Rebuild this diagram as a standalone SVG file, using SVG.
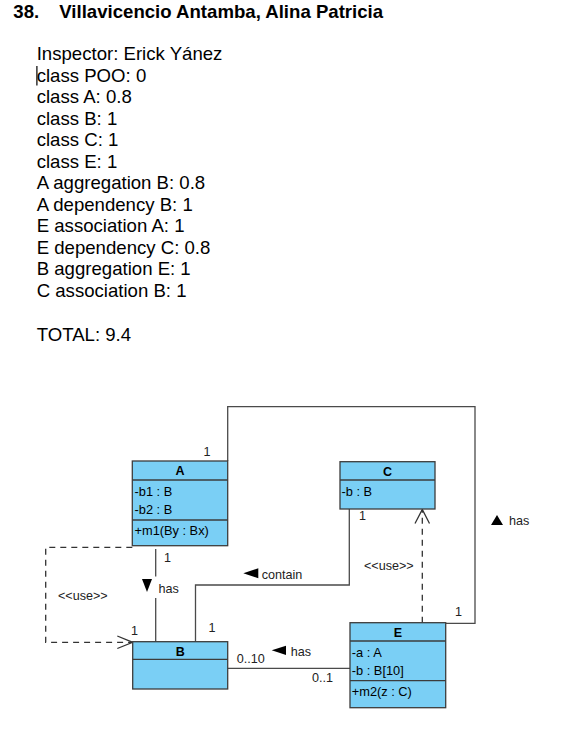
<svg xmlns="http://www.w3.org/2000/svg" width="573" height="733" viewBox="0 0 573 733">
<style>
.doc{font-family:"Liberation Sans",Arial,sans-serif;font-size:18.6px;fill:#000}
.ttl{font-family:"Liberation Sans",Arial,sans-serif;font-size:18.6px;font-weight:bold;fill:#000}
.box{fill:#7ACFF5;stroke:#3C3C3C;stroke-width:1.3}
.div{stroke:#3C3C3C;stroke-width:1.3}
.nm{font-family:"Liberation Sans",Arial,sans-serif;font-size:12.5px;font-weight:bold;fill:#000;text-anchor:middle}
.at{font-family:"Liberation Sans",Arial,sans-serif;font-size:12.8px;fill:#000}
.lb{font-family:"Liberation Sans",Arial,sans-serif;font-size:12.6px;fill:#222}
.st{font-family:"Liberation Sans",Arial,sans-serif;font-size:12.6px;fill:#222}
.ln{fill:none;stroke:#4A4A4A;stroke-width:1.3}
.dash{fill:none;stroke:#333;stroke-width:1.3;stroke-dasharray:6,5}
.arr{fill:none;stroke:#333;stroke-width:1.3}
.tri{fill:#000}
</style>
<rect width="573" height="733" fill="#fff"/>
<g id="header">
<text class="ttl" x="13.3" y="18.3">38.</text>
<text class="ttl" x="59.3" y="18.3">Villavicencio Antamba, Alina Patricia</text>
<text class="doc" x="36.7" y="60">Inspector: Erick Yánez</text>
<text class="doc" x="36.7" y="81.5">class POO: 0</text>
<line x1="36.9" y1="66" x2="36.9" y2="85.5" stroke="#000" stroke-width="1.2"/>
<text class="doc" x="36.7" y="103">class A: 0.8</text>
<text class="doc" x="36.7" y="124.5">class B: 1</text>
<text class="doc" x="36.7" y="146">class C: 1</text>
<text class="doc" x="36.7" y="167.5">class E: 1</text>
<text class="doc" x="36.7" y="189">A aggregation B: 0.8</text>
<text class="doc" x="36.7" y="210.5">A dependency B: 1</text>
<text class="doc" x="36.7" y="232">E association A: 1</text>
<text class="doc" x="36.7" y="253.5">E dependency C: 0.8</text>
<text class="doc" x="36.7" y="275">B aggregation E: 1</text>
<text class="doc" x="36.7" y="296.5">C association B: 1</text>
<text class="doc" x="36.7" y="340.5">TOTAL: 9.4</text>
</g>
<g id="connectors">
<!-- E association A -->
<polyline class="ln" points="227.7,461 227.7,406.7 475,406.7 475,623.3 445.7,623.3"/>
<text class="lb" x="203.5" y="456">1</text>
<text class="lb" x="455" y="616">1</text>
<polygon class="tri" points="491,525 497,515 503,525"/>
<text class="lb" x="509" y="525">has</text>
<!-- A aggregation B -->
<line class="ln" x1="155.7" y1="549" x2="155.7" y2="576.5"/>
<line class="ln" x1="155.7" y1="598" x2="155.7" y2="641.7"/>
<polygon class="tri" points="142,579 152,579 147,592"/>
<text class="lb" x="158.5" y="592.5">has</text>
<text class="lb" x="164" y="562">1</text>
<!-- A dependency B -->
<polyline class="dash" points="132.3,547.3 45.7,547.3 45.7,642.3 132,642.3"/>
<polyline class="arr" points="117.3,636 132.7,642.3 117.3,648.5"/>
<text class="st" x="58" y="600">&lt;&lt;use&gt;&gt;</text>
<text class="lb" x="131" y="635">1</text>
<!-- C association B -->
<polyline class="ln" points="349.3,509 349.3,585 195.5,585 195.5,641.7"/>
<polygon class="tri" points="243.3,573.3 258.3,568.3 258.3,578.3"/>
<text class="lb" x="261.7" y="579">contain</text>
<text class="lb" x="208.5" y="632">1</text>
<text class="lb" x="359" y="520">1</text>
<!-- E dependency C -->
<line class="dash" x1="422.3" y1="622.7" x2="422.3" y2="510"/>
<polyline class="arr" points="415,523.5 422.3,509.5 429.5,523.5"/>
<text class="st" x="364" y="570">&lt;&lt;use&gt;&gt;</text>
<!-- B aggregation E -->
<line class="ln" x1="227.7" y1="668.3" x2="350" y2="668.3"/>
<text class="lb" x="236.7" y="662.5">0..10</text>
<text class="lb" x="312" y="681.5">0..1</text>
<polygon class="tri" points="271.7,650.3 286,645.7 286,655"/>
<text class="lb" x="290.7" y="656">has</text>
</g>
<g id="A">
<rect class="box" x="132.3" y="461" width="95.4" height="84.7"/>
<line class="div" x1="132.3" y1="480" x2="227.7" y2="480"/>
<line class="div" x1="132.3" y1="520" x2="227.7" y2="520"/>
<text class="nm" x="180" y="475">A</text>
<text class="at" x="134.5" y="496">-b1 : B</text>
<text class="at" x="134.5" y="513.5">-b2 : B</text>
<text class="at" x="134.5" y="534.5">+m1(By : Bx)</text>
</g>
<g id="B">
<rect class="box" x="132.7" y="641.7" width="95" height="47.3"/>
<line class="div" x1="132.7" y1="659.3" x2="227.7" y2="659.3"/>
<text class="nm" x="180.2" y="655.5">B</text>
</g>
<g id="C">
<rect class="box" x="340" y="461.7" width="95" height="47.3"/>
<line class="div" x1="340" y1="480" x2="435" y2="480"/>
<text class="nm" x="387.5" y="475.5">C</text>
<text class="at" x="341.5" y="496">-b : B</text>
</g>
<g id="E">
<rect class="box" x="350" y="622.7" width="95.7" height="85"/>
<line class="div" x1="350" y1="641" x2="445.7" y2="641"/>
<line class="div" x1="350" y1="680.7" x2="445.7" y2="680.7"/>
<text class="nm" x="397.8" y="636.5">E</text>
<text class="at" x="351.8" y="656.7">-a : A</text>
<text class="at" x="351.8" y="675">-b : B[10]</text>
<text class="at" x="351.8" y="696">+m2(z : C)</text>
</g>
</svg>
